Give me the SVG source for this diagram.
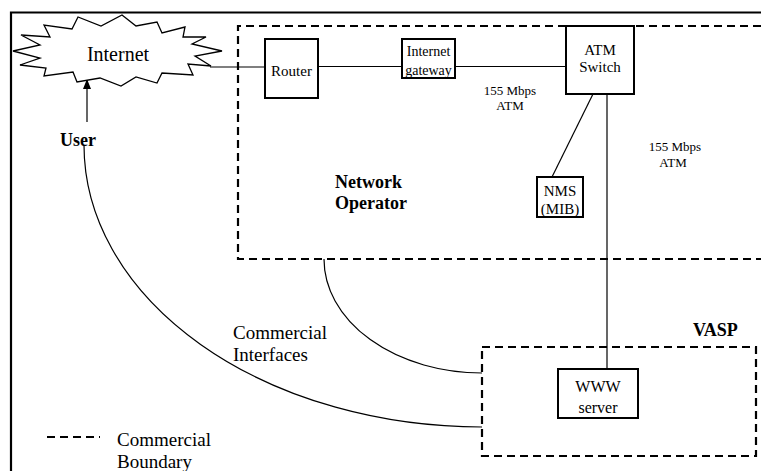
<svg xmlns="http://www.w3.org/2000/svg" width="761" height="471" viewBox="0 0 761 471">
<defs>
<style>
text{font-family:"Liberation Serif","Times New Roman",serif;fill:#000}
.c{text-anchor:middle}
.b{font-weight:bold}
.box{fill:#fff;stroke:#000;stroke-width:2}
.dash{fill:none;stroke:#000;stroke-width:2.2;stroke-dasharray:8 5}
.ln{fill:none;stroke:#000;stroke-width:1.2}
</style>
<marker id="ah" markerWidth="10" markerHeight="10" refX="9" refY="5" orient="auto" markerUnits="userSpaceOnUse">
<path d="M0,1 L10,5 L0,9 Z" fill="#000"/>
</marker>
</defs>
<rect width="761" height="471" fill="#fff"/>
<g id="frame">
<path d="M761,12.5 H11 V471" fill="none" stroke="#000" stroke-width="2.2"/>
</g>
<g id="network-operator">
<path class="dash" d="M761,26 H238 V259 H761"/>
<text class="b" x="335" y="188" font-size="18">Network</text>
<text class="b" x="335" y="209" font-size="18">Operator</text>
</g>
<g id="vasp">
<rect class="dash" x="482" y="347" width="274" height="109"/>
<text class="b" x="693" y="336" font-size="18">VASP</text>
</g>
<g id="connectors">
<line class="ln" x1="210" y1="67" x2="265" y2="67"/>
<line class="ln" x1="318" y1="66.5" x2="402" y2="66.5"/>
<line class="ln" x1="455" y1="66.5" x2="566" y2="66.5"/>
<line class="ln" x1="593" y1="94" x2="552" y2="177"/>
<line class="ln" x1="607" y1="94" x2="607" y2="369"/>
<line class="ln" x1="87" y1="122" x2="87" y2="80" marker-end="url(#ah)"/>
<path class="ln" d="M84,145 A398,282 0 0 0 482,427"/>
<path class="ln" d="M324,259 A158,114 0 0 0 482,373"/>
</g>
<g id="internet">
<polygon points="13,51 40,45 21,35 50,37 44,25 72,29 78,17 101,26 122,15 136,26 157,22 162,33 185,27 183,37 206,37 192,44 222,51 195,56 211,66 188,64 193,75 162,73 157,83 136,77 121,86 100,78 77,82 73,72 44,76 46,68 20,65 40,58" fill="#fff" stroke="#000" stroke-width="1.3" stroke-linejoin="miter"/>
<text class="c" x="118" y="61" font-size="20">Internet</text>
</g>
<g id="user">
<text class="b" x="60" y="146" font-size="18">User</text>
</g>
<g id="router">
<rect class="box" x="265" y="39" width="53" height="59"/>
<text class="c" x="291.5" y="76" font-size="15">Router</text>
</g>
<g id="gateway">
<rect class="box" x="402" y="39" width="53" height="39"/>
<text class="c" x="428.5" y="56" font-size="14">Internet</text>
<text class="c" x="428.5" y="75" font-size="14">gateway</text>
</g>
<g id="atm-switch">
<rect class="box" x="566" y="26" width="68" height="68"/>
<text class="c" x="600" y="55" font-size="15">ATM</text>
<text class="c" x="600" y="72" font-size="15">Switch</text>
</g>
<g id="label-155a">
<text class="c" x="510" y="95" font-size="13">155 Mbps</text>
<text class="c" x="510" y="110" font-size="13">ATM</text>
</g>
<g id="label-155b">
<text class="c" x="675" y="151" font-size="13">155 Mbps</text>
<text class="c" x="673" y="167" font-size="13">ATM</text>
</g>
<g id="nms">
<rect class="box" x="537" y="177" width="46" height="40"/>
<text class="c" x="560" y="196" font-size="15">NMS</text>
<text class="c" x="560" y="214" font-size="15">(MIB)</text>
</g>
<g id="www-server">
<rect class="box" x="558" y="369" width="80" height="49"/>
<text class="c" x="598" y="392" font-size="16">WWW</text>
<text class="c" x="598" y="413" font-size="16">server</text>
</g>
<g id="commercial-interfaces">
<text x="233" y="339" font-size="19">Commercial</text>
<text x="233" y="361" font-size="19">Interfaces</text>
</g>
<g id="legend">
<line class="dash" x1="47" y1="437" x2="100" y2="437"/>
<text x="117" y="446" font-size="19">Commercial</text>
<text x="117" y="468" font-size="19">Boundary</text>
</g>
</svg>
